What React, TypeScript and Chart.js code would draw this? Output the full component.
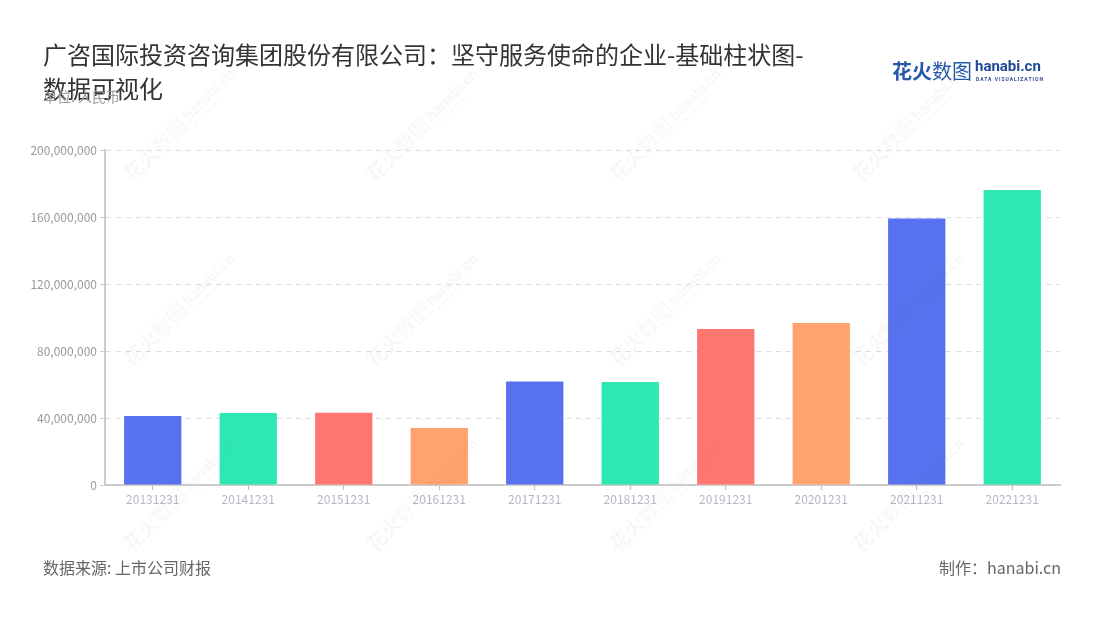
import React, { useEffect, useRef } from "react";
import { Chart, registerables } from "chart.js";

Chart.register(...registerables);

const categories = ["20131231", "20141231", "20151231", "20161231", "20171231", "20181231", "20191231", "20201231", "20211231", "20221231"];
const values = [41200000, 43000000, 43100000, 34000000, 61800000, 61500000, 93100000, 96700000, 159100000, 176100000];
const palette = ["#5871ef", "#2ee8b3", "#ff7670", "#ffa26e"];
const yTicks = [0, 40000000, 80000000, 120000000, 160000000, 200000000];

const FONT = '"Noto Sans CJK SC", "Noto Sans", sans-serif';

const watermarkPlugin = {
  id: "watermark",
  afterDraw(c: any) {
    const ctx = c.ctx;
    const cols = [132, 375, 618, 861];
    const rows = [183, 368, 553];
    ctx.save();
    for (const x0 of cols) {
      for (const y0 of rows) {
        ctx.save();
        ctx.translate(x0, y0);
        ctx.rotate(-Math.PI / 4);
        ctx.fillStyle = "rgba(120,120,120,0.06)";
        ctx.textBaseline = "alphabetic";
        ctx.font = `700 20px ${FONT}`;
        ctx.fillText("花火", 0, 0);
        const w1 = ctx.measureText("花火").width;
        ctx.font = `400 20px ${FONT}`;
        ctx.fillText("数图", w1, 0);
        const w2 = w1 + ctx.measureText("数图").width;
        ctx.font = `700 15px Roboto, sans-serif`;
        ctx.fillText("hanabi.cn", w2 + 4, -3);
        ctx.font = `700 4px Roboto, sans-serif`;
        ctx.fillText("DATA VISUALIZATION", w2 + 5, 4);
        ctx.restore();
      }
    }
    ctx.restore();
  },
};

export default function App() {
  const ref = useRef<HTMLCanvasElement | null>(null);
  useEffect(() => {
    if (!ref.current) return;
    const chart = new Chart(ref.current, {
      type: "bar",
      data: {
        labels: categories,
        datasets: [
          {
            data: values,
            backgroundColor: values.map((_, i) => palette[i % palette.length]),
            barPercentage: 0.6,
            categoryPercentage: 1,
          },
        ],
      },
      options: {
        animation: false,
        responsive: false,
        maintainAspectRatio: false,
        layout: { padding: { left: 0, top: 150, right: 40, bottom: 95 } },
        plugins: { legend: { display: false }, tooltip: { enabled: false } },
        scales: {
          x: {
            afterFit: (s: any) => { s.height = 40; },
            grid: { display: true, offset: false, drawOnChartArea: false, drawTicks: true, tickLength: 5, color: "#bbbbbb" },
            border: { display: true, color: "#cccccc", width: 2 },
            ticks: { color: "#b3b8c6", font: { family: FONT, size: 12 }, padding: 2, maxRotation: 0 },
          },
          y: {
            min: 0,
            max: 200000000,
            afterFit: (s: any) => { s.width = 105; },
            afterBuildTicks: (s: any) => { s.ticks = yTicks.map((v) => ({ value: v })); },
            grid: { color: "#dedede", tickLength: 5, tickColor: "#cccccc", tickBorderDash: [] },
            border: { display: true, color: "#cccccc", width: 2, dash: [5, 5] },
            ticks: {
              color: "#999999",
              font: { family: FONT, size: 12 },
              padding: 3,
              callback: (v: any) => Number(v).toLocaleString("en-US"),
            },
          },
        },
      },
      plugins: [watermarkPlugin],
    } as any);
    return () => chart.destroy();
  }, []);

  return (
    <div style={{ position: "fixed", left: 0, top: 0, width: 1100, height: 620, background: "#fff", fontFamily: FONT, overflow: "hidden" }}>
      <canvas ref={ref} width={1100} height={620} style={{ position: "absolute", left: 0, top: 0, width: 1100, height: 620 }} />
      <div style={{ position: "absolute", left: 43, top: 37, fontSize: 24, lineHeight: "34px", color: "#333", width: 800 }}>
        广咨国际投资咨询集团股份有限公司：坚守服务使命的企业-基础柱状图-<br />数据可视化
      </div>
      <div style={{ position: "absolute", left: 43, top: 86, fontSize: 14, color: "#999" }}>单位: 人民币</div>
      <div style={{ position: "absolute", left: 892, top: 58, fontSize: 20, fontWeight: 700, color: "#2759a9", lineHeight: "26px" }}>
        花火<span style={{ fontWeight: 400 }}>数图</span>
      </div>
      <div style={{ position: "absolute", left: 975, top: 57, fontSize: 15, fontWeight: 700, color: "#1f4a96", lineHeight: "18px", fontFamily: "Roboto, sans-serif" }}>
        hanabi.cn
      </div>
      <div style={{ position: "absolute", left: 976, top: 76, fontSize: 5, color: "#2a4a8a", letterSpacing: 1, fontFamily: "Roboto, sans-serif", fontWeight: 700 }}>
        DATA VISUALIZATION
      </div>
      <div style={{ position: "absolute", left: 43, top: 555, fontSize: 16, color: "#666" }}>数据来源: 上市公司财报</div>
      <div style={{ position: "absolute", right: 39, top: 555, fontSize: 16, color: "#666" }}>制作：hanabi.cn</div>
    </div>
  );
}
